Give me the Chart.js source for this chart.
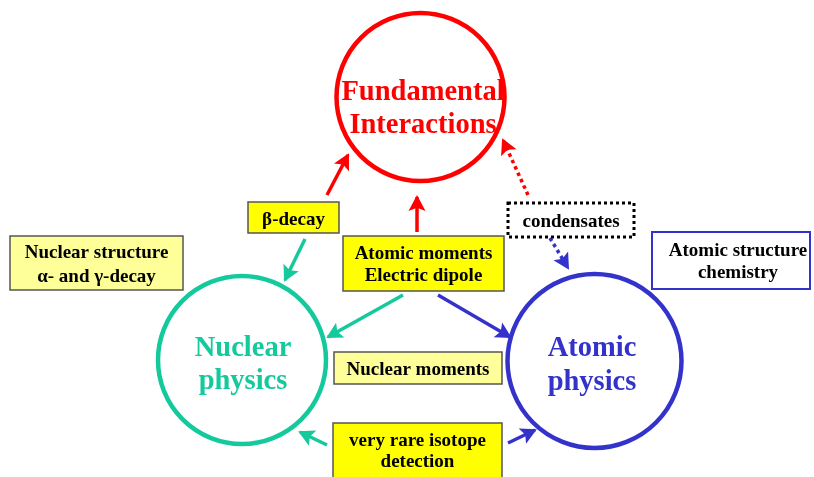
<!DOCTYPE html>
<html><head><meta charset="utf-8">
<script src="https://cdn.jsdelivr.net/npm/chart.js@4"></script>
<style>html,body{margin:0;padding:0;background:#fff;overflow:hidden}#wrap{width:814px;height:477px;position:relative}</style>
</head><body><div id="wrap"><canvas id="c"></canvas></div>
<script>
// ---- data ----
const nodeLabels = [['Fundamental','Interactions'],['Nuclear','physics'],['Atomic','physics']];
const nodeX = [420.5, 242, 594.5];
const nodeY = [97, 360, 361];

const boxLabels = [['β-decay'],['Nuclear structure','α- and γ-decay'],['Atomic moments','Electric dipole'],['condensates'],['Atomic structure','chemistry'],['Nuclear moments'],['very rare isotope','detection']];
const boxLeft   = [248, 10, 343, 508, 652, 334, 333];
const boxTop    = [202, 236, 236, 203, 232, 352, 423];
const boxRight  = [339, 183, 504, 634, 810, 502, 502];
const boxBottom = [233, 290, 291, 237, 289, 384, 482];

const arrowTailX = [327, 417, 528, 305, 403, 438, 550, 327, 508];
const arrowTailY = [195, 232, 195, 239, 295, 295, 238, 445, 443];
const arrowHeadX = [348, 417, 503, 285, 328, 510, 568, 300, 535];
const arrowHeadY = [155, 197, 140, 280, 337, 337, 268, 432, 430];

// ---- styles ----
const RED = '#FF0000', TEAL = '#14C99B', BLUE = '#3333CC';
const nodeColors = [RED, TEAL, BLUE];
const nodeRadius = [84, 84, 87];
const arrowColors = [RED, RED, RED, TEAL, TEAL, BLUE, BLUE, TEAL, BLUE];
const arrowDotted = [false, false, true, false, false, false, true, false, false];
const boxStyles = [
  {fill:'#FFFF00', stroke:'#555555', width:1.5, dash:[]},
  {fill:'#FFFF99', stroke:'#555555', width:1.5, dash:[]},
  {fill:'#FFFF00', stroke:'#555555', width:1.5, dash:[]},
  {fill:'#FFFFFF', stroke:'#000000', width:3, dash:[3,3]},
  {fill:'#FFFFFF', stroke:BLUE, width:2, dash:[]},
  {fill:'#FFFF99', stroke:'#555555', width:1.5, dash:[]},
  {fill:'#FFFF00', stroke:'#555555', width:1.5, dash:[]}
];
const boxBaselines = [[225],[258,282],[259,281],[227],[256,278],[375],[446,467]];
const boxTextX = [null, null, null, null, 738, null, null];
const nodeBaselines = [[100,133],[356,389],[356,390]];
const nodeTextX = [423, 243, 592];

const datasets = [];
nodeX.forEach((x, i) => {
  datasets.push({
    type: 'scatter',
    data: [{x: x, y: nodeY[i]}],
    pointRadius: nodeRadius[i],
    pointHoverRadius: nodeRadius[i],
    pointBorderWidth: 4.5,
    pointBorderColor: nodeColors[i],
    pointBackgroundColor: 'rgba(255,255,255,0)',
    clip: false
  });
});
arrowTailX.forEach((tx, i) => {
  datasets.push({
    type: 'line',
    data: [{x: tx, y: arrowTailY[i]}, {x: arrowHeadX[i], y: arrowHeadY[i]}],
    borderColor: arrowColors[i],
    borderWidth: 3.5,
    borderDash: arrowDotted[i] ? [3.5, 3.5] : [],
    borderCapStyle: 'butt',
    pointRadius: 0,
    fill: false,
    tension: 0,
    clip: false
  });
});

const diagramPlugin = {
  id: 'diagram',
  afterDatasetsDraw(chart) {
    const ctx = chart.ctx, sx = chart.scales.x, sy = chart.scales.y;
    // arrowheads
    arrowTailX.forEach((tx, i) => {
      const x0 = sx.getPixelForValue(tx), y0 = sy.getPixelForValue(arrowTailY[i]);
      const x1 = sx.getPixelForValue(arrowHeadX[i]), y1 = sy.getPixelForValue(arrowHeadY[i]);
      const a = Math.atan2(y1 - y0, x1 - x0);
      const L = 16, W = 8.5;
      const tipX = x1 + Math.cos(a) * 2, tipY = y1 + Math.sin(a) * 2;
      ctx.save();
      ctx.fillStyle = arrowColors[i];
      ctx.beginPath();
      ctx.moveTo(tipX, tipY);
      ctx.lineTo(tipX - L * Math.cos(a) + W * Math.sin(a), tipY - L * Math.sin(a) - W * Math.cos(a));
      ctx.lineTo(tipX - 0.8 * L * Math.cos(a), tipY - 0.8 * L * Math.sin(a));
      ctx.lineTo(tipX - L * Math.cos(a) - W * Math.sin(a), tipY - L * Math.sin(a) + W * Math.cos(a));
      ctx.closePath();
      ctx.fill();
      ctx.restore();
    });
    // boxes
    boxLabels.forEach((lines, i) => {
      const l = sx.getPixelForValue(boxLeft[i]), r = sx.getPixelForValue(boxRight[i]);
      const t = sy.getPixelForValue(boxTop[i]), b = sy.getPixelForValue(boxBottom[i]);
      const st = boxStyles[i];
      ctx.save();
      ctx.fillStyle = st.fill;
      ctx.fillRect(l, t, r - l, b - t);
      ctx.strokeStyle = st.stroke;
      ctx.lineWidth = st.width;
      ctx.setLineDash(st.dash);
      ctx.strokeRect(l, t, r - l, b - t);
      ctx.setLineDash([]);
      ctx.fillStyle = '#000000';
      ctx.font = 'bold 19px "Liberation Serif", "Times New Roman", serif';
      ctx.textAlign = 'center';
      ctx.textBaseline = 'alphabetic';
      const cx = boxTextX[i] !== null ? sx.getPixelForValue(boxTextX[i]) : (l + r) / 2;
      lines.forEach((txt, k) => ctx.fillText(txt, cx, sy.getPixelForValue(boxBaselines[i][k])));
      ctx.restore();
    });
    // node labels
    nodeLabels.forEach((lines, i) => {
      ctx.save();
      ctx.fillStyle = nodeColors[i];
      ctx.font = 'bold 28.5px "Liberation Serif", "Times New Roman", serif';
      ctx.textAlign = 'center';
      ctx.textBaseline = 'alphabetic';
      lines.forEach((txt, k) => ctx.fillText(txt, sx.getPixelForValue(nodeTextX[i]), sy.getPixelForValue(nodeBaselines[i][k])));
      ctx.restore();
    });
  }
};

new Chart(document.getElementById('c'), {
  type: 'scatter',
  data: { datasets },
  options: {
    responsive: true,
    maintainAspectRatio: false,
    animation: false,
    events: [],
    layout: { padding: 0, autoPadding: false },
    plugins: { legend: { display: false }, tooltip: { enabled: false } },
    scales: {
      x: { type: 'linear', min: 0, max: 814, display: false },
      y: { type: 'linear', min: 0, max: 477, reverse: true, display: false }
    }
  },
  plugins: [diagramPlugin]
});
</script>
</body></html>
